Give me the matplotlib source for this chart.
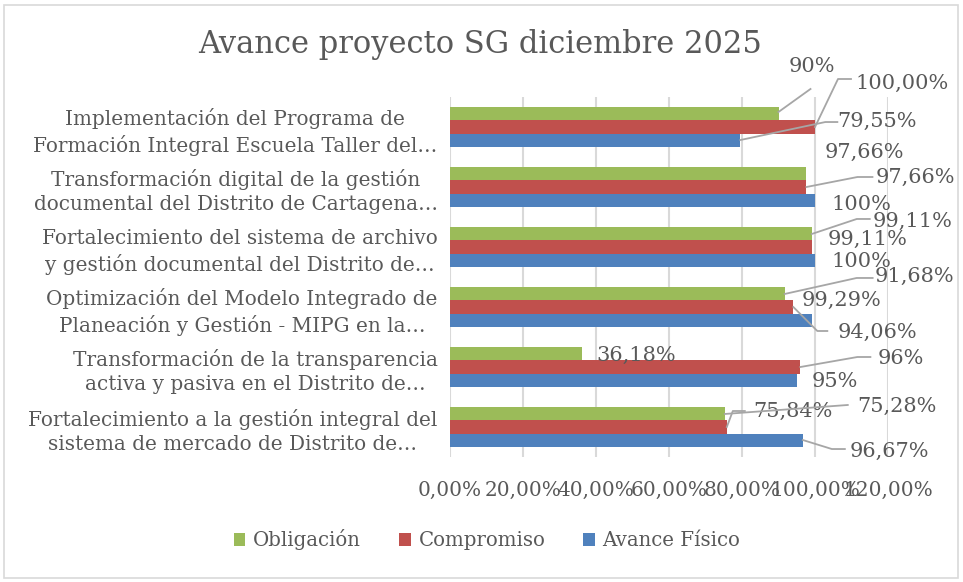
import matplotlib
matplotlib.use("Agg")
import matplotlib.pyplot as plt
from matplotlib.patches import Patch, Rectangle
from matplotlib.lines import Line2D
from matplotlib.ticker import FuncFormatter

plt.rcParams['font.family'] = ['DejaVu Serif']

categories = [
    "Implementación del Programa de\nFormación Integral Escuela Taller del…",
    "Transformación digital de la gestión\ndocumental del Distrito de Cartagena…",
    "Fortalecimiento del sistema de archivo\ny gestión documental del Distrito de…",
    "Optimización del Modelo Integrado de\nPlaneación y Gestión - MIPG en la…",
    "Transformación de la transparencia\nactiva y pasiva en el Distrito de…",
    "Fortalecimiento a la gestión integral del\nsistema de mercado de Distrito de…",
]
obligacion = [0.90, 0.9766, 0.9911, 0.9168, 0.3618, 0.7528]
compromiso = [1.00, 0.9766, 0.9911, 0.9406, 0.96, 0.7584]
avance = [0.7955, 1.00, 1.00, 0.9929, 0.95, 0.9667]
obligacion_lbl = ["90%", "97,66%", "99,11%", "91,68%", "36,18%", "75,28%"]
compromiso_lbl = ["100,00%", "97,66%", "99,11%", "94,06%", "96%", "75,84%"]
avance_lbl = ["79,55%", "100%", "100%", "99,29%", "95%", "96,67%"]
series_names = ["Obligación", "Compromiso", "Avance Físico"]
xticks = [0, 0.2, 0.4, 0.6, 0.8, 1.0, 1.2]

colors = ["#9BBB59", "#C0504D", "#4F81BD"]
txt = "#595959"
grid = "#d9d9d9"

# label placement offsets (pixels, image orientation: +y down) and leader paths
lbl_off = [
    [(33, -47), (58, -22), (101, -13), (130, -18), (54, 1), (172, -8)],
    [(87, -44), (109, -10), (56, -8), (84, 25), (100, -9), (66, -16)],
    [(137, -19), (46, 4), (46, 1), (29, -20), (38, 1), (87, 11)],
]
leaders = [
    [[(0, -2), (32, -25)], None, [(0, 0), (45, -15), (58, -15)],
     [(0, 0), (72, -16), (88, -16)], None, [(0, 0), (123, -9)]],
    [[(0, 0), (23, -48), (36, -48)], [(0, 0), (51, -10), (66, -10)], None,
     [(0, 0), (24, 24), (34, 24)], [(0, 0), (57, -10), (70, -10)],
     [(0, 0), (6, -16), (18, -16)]],
    [[(0, 0), (85, -18), (97, -18)], None, None, None, None,
     [(0, 0), (29, 9), (42, 9)]],
]

W, H = 963, 582
fig = plt.figure(figsize=(W / 100, H / 100), dpi=100)
fig.patches.append(Rectangle((4 / W, 4 / H), 954 / W, 573 / H, transform=fig.transFigure,
                             fill=False, edgecolor=grid, lw=1.2))
ax = fig.add_axes([450 / W, 1 - 457 / H, (888 - 450) / W, 360 / H])

n = len(categories)
h = 0.217
ys = list(range(n))
data = [obligacion, compromiso, avance]
labels = [obligacion_lbl, compromiso_lbl, avance_lbl]
offs = [-h, 0, h]
for s in range(3):
    ax.barh([y + offs[s] for y in ys], data[s], height=h, color=colors[s], zorder=3)

ax.set_xlim(0, 1.2)
ax.set_ylim(n - 0.5, -0.5)
ax.set_xticks(xticks)
ax.xaxis.set_major_formatter(FuncFormatter(lambda v, p: f"{v*100:.2f}%".replace(".", ",")))
ax.set_yticks(ys)
ax.set_yticklabels(categories, fontsize=14.4, color=txt, multialignment='center', linespacing=1.35)
ax.tick_params(axis='both', length=0, colors=txt)
ax.tick_params(axis='x', labelsize=14.5, pad=17)
ax.tick_params(axis='y', pad=9)
ax.grid(axis='x', color=grid, lw=1.5, zorder=0)
for sp in ax.spines.values():
    sp.set_visible(False)

fig.canvas.draw()
for s in range(3):
    for i in range(n):
        bx, by = ax.transData.transform((data[s][i], ys[i] + offs[s]))
        dx, dy = lbl_off[s][i]
        ax.annotate(labels[s][i], xy=(data[s][i], ys[i] + offs[s]), xytext=(dx, -dy),
                    textcoords='offset pixels', ha='center', va='center',
                    fontsize=15, color=txt, zorder=5, annotation_clip=False)
        path = leaders[s][i]
        if path:
            xs = [bx + p[0] for p in path]
            yv = [by - p[1] for p in path]
            fig.add_artist(Line2D(xs, yv, transform=None, color="#a6a6a6", lw=1.3, zorder=4))

fig.text(480 / W, 1 - 45 / H, "Avance proyecto SG diciembre 2025", ha='center', va='center',
         fontsize=22, color=txt)

handles = [Patch(facecolor=c) for c in colors]
fig.legend(handles, series_names, loc='center', bbox_to_anchor=(487 / W, 1 - 540 / H),
           ncol=3, frameon=False, fontsize=14.2, labelcolor=txt, handlelength=0.6,
           handleheight=0.6, handletextpad=0.4, columnspacing=1.9)

fig.savefig("out.png", dpi=100)
